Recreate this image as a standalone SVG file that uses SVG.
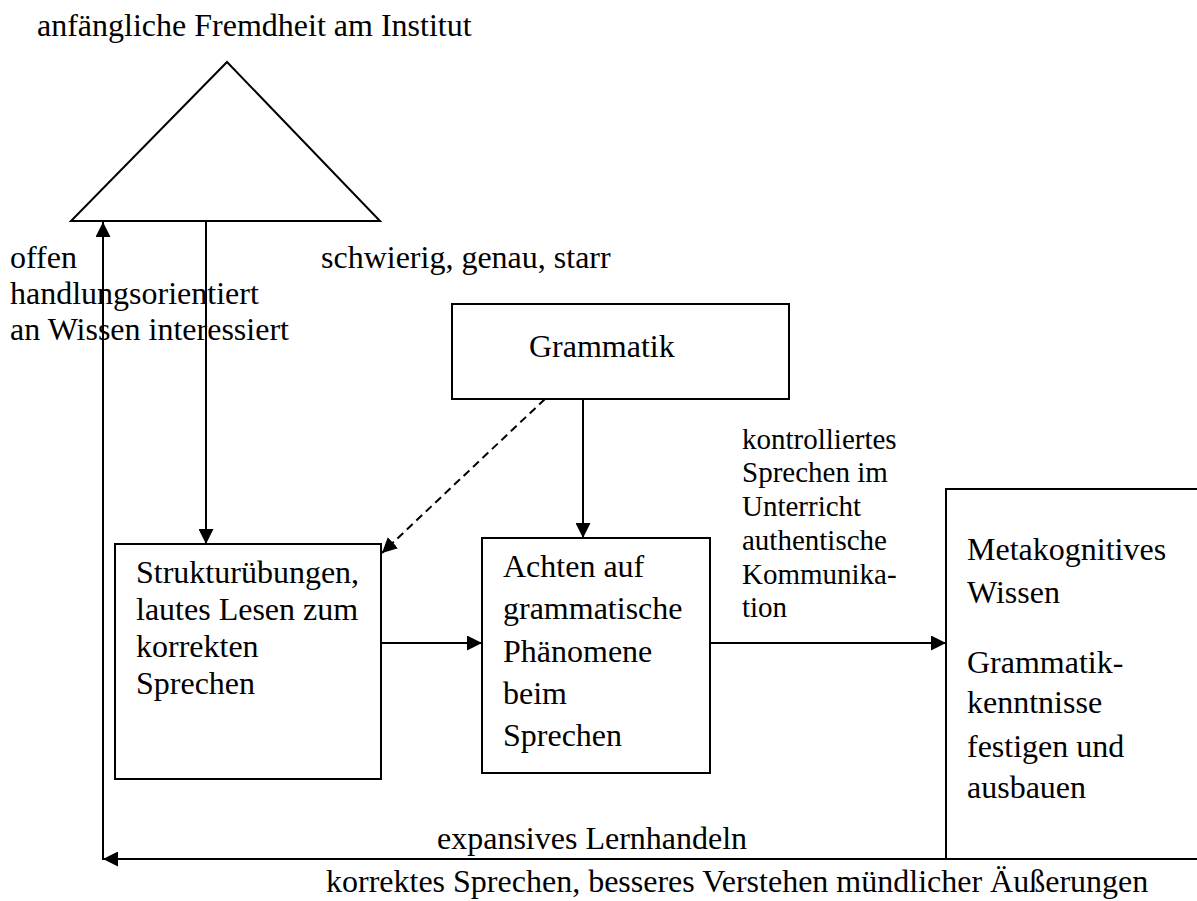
<svg xmlns="http://www.w3.org/2000/svg" width="1197" height="901" viewBox="0 0 1197 901">
  <style>
    text { font-family: "Liberation Serif", "Times New Roman", serif; font-size: 32px; fill: #000; }
    text.small { font-size: 29px; }
    .shape { fill: #fff; stroke: #000; stroke-width: 2; }
    .edge { fill: none; stroke: #000; stroke-width: 2; }
    .dashed { stroke-dasharray: 8 5; }
  </style>
  <defs>
    <marker id="arrow" markerUnits="userSpaceOnUse" markerWidth="15" markerHeight="15" refX="15" refY="7.5" orient="auto">
      <path d="M0,0 L15,7.5 L0,15 z" fill="#000"/>
    </marker>
  </defs>
  <rect width="1197" height="901" fill="#fff"/>

  <!-- top heading with triangle -->
  <g id="institut">
    <text x="37" y="36">anfängliche Fremdheit am Institut</text>
    <polygon class="shape" points="227,62 380,221 71,221"/>
  </g>

  <g id="label-left">
    <text x="10" y="268">offen</text>
    <text x="10" y="304">handlungsorientiert</text>
    <text x="10" y="340">an Wissen interessiert</text>
  </g>

  <g id="label-right">
    <text x="321" y="268">schwierig, genau, starr</text>
  </g>

  <g id="grammatik">
    <rect class="shape" x="452" y="304" width="337" height="95"/>
    <text x="529" y="357">Grammatik</text>
  </g>

  <g id="strukturuebungen">
    <rect class="shape" x="115" y="544" width="266" height="235"/>
    <text x="136" y="583">Strukturübungen,</text>
    <text x="136" y="620">lautes Lesen zum</text>
    <text x="136" y="657">korrekten</text>
    <text x="136" y="694">Sprechen</text>
  </g>

  <g id="achten">
    <rect class="shape" x="482" y="538" width="228" height="235"/>
    <text x="503" y="577">Achten auf</text>
    <text x="503" y="619">grammatische</text>
    <text x="503" y="662">Phänomene</text>
    <text x="503" y="704">beim</text>
    <text x="503" y="746">Sprechen</text>
  </g>

  <g id="label-sprechen">
    <text class="small" x="742" y="449">kontrolliertes</text>
    <text class="small" x="742" y="482">Sprechen im</text>
    <text class="small" x="742" y="516">Unterricht</text>
    <text class="small" x="742" y="550">authentische</text>
    <text class="small" x="742" y="584">Kommunika-</text>
    <text class="small" x="742" y="617">tion</text>
  </g>

  <g id="metakognitiv">
    <rect class="shape" x="946" y="489" width="300" height="370"/>
    <text x="967" y="560">Metakognitives</text>
    <text x="967" y="603">Wissen</text>
    <text x="967" y="673">Grammatik-</text>
    <text x="967" y="713">kenntnisse</text>
    <text x="967" y="757">festigen und</text>
    <text x="967" y="798">ausbauen</text>
  </g>

  <g id="label-bottom">
    <text x="437" y="849">expansives Lernhandeln</text>
    <text x="326" y="892">korrektes Sprechen, besseres Verstehen mündlicher Äußerungen</text>
  </g>

  <g id="connectors">
    <path class="edge" d="M206,221 L206,544" marker-end="url(#arrow)"/>
    <path class="edge dashed" d="M545,399 L382,553" marker-end="url(#arrow)"/>
    <path class="edge" d="M583,399 L583,538" marker-end="url(#arrow)"/>
    <path class="edge" d="M381,643 L482,643" marker-end="url(#arrow)"/>
    <path class="edge" d="M710,643 L946,643" marker-end="url(#arrow)"/>
    <path class="edge" d="M946,859 L103,859" marker-end="url(#arrow)"/>
    <path class="edge" d="M103,860 L103,222" marker-end="url(#arrow)"/>
  </g>
</svg>
